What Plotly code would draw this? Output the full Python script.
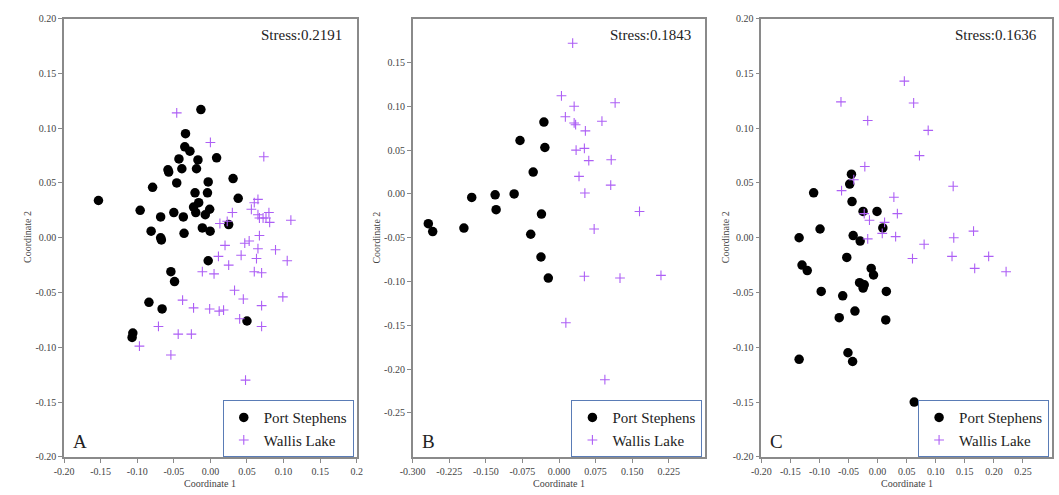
import plotly.graph_objects as go

W, H = 1059, 495

# ---- Panel A data ----
a_ps_x = [-0.153, -0.013, -0.034, -0.035, -0.028, -0.043, -0.017, 0.0085, -0.058, -0.057, -0.039, -0.019,
          0.031, -0.079, -0.046, -0.003, -0.021, -0.004, 0.038, -0.096, -0.068, -0.050, -0.037, -0.023,
          -0.016, -0.020, -0.001, -0.007, -0.081, -0.068, -0.067, -0.036, -0.011, -0.0004, 0.025,
          -0.003, -0.054, -0.049, -0.084, -0.066, -0.106, -0.107, 0.050]
a_ps_y = [0.034, 0.117, 0.095, 0.083, 0.079, 0.072, 0.071, 0.073, 0.062, 0.060, 0.063, 0.063,
          0.054, 0.046, 0.050, 0.051, 0.041, 0.041, 0.036, 0.025, 0.019, 0.023, 0.019, 0.028,
          0.032, 0.023, 0.026, 0.021, 0.006, 0.000, -0.002, 0.004, 0.009, 0.006, 0.012,
          -0.021, -0.031, -0.040, -0.059, -0.065, -0.087, -0.091, -0.076]
a_wl_x = [-0.046, 0.000, 0.073, 0.065, 0.060, 0.056, 0.030, 0.065, 0.080, 0.067, 0.072, 0.076, 0.081,
          0.110, 0.013, 0.023, 0.067, 0.020, 0.047, 0.053, 0.065, 0.089,
          0.011, 0.042, 0.063, 0.105, 0.025, -0.011, 0.005, 0.060, 0.070, 0.033, 0.045, 0.099,
          -0.038, -0.023, -0.001, 0.012, 0.018, 0.070, 0.040, 0.070, -0.071, -0.044, -0.026,
          -0.097, -0.054, 0.048]
a_wl_y = [0.114, 0.087, 0.074, 0.035, 0.032, 0.026, 0.023, 0.021, 0.023, 0.018, 0.018, 0.018, 0.014,
          0.016, 0.013, 0.015, 0.002, -0.007, -0.005, -0.003, -0.010, -0.011,
          -0.017, -0.016, -0.019, -0.021, -0.025, -0.031, -0.033, -0.031, -0.032, -0.048, -0.056, -0.054,
          -0.057, -0.064, -0.065, -0.067, -0.066, -0.062, -0.074, -0.081, -0.081, -0.088, -0.088,
          -0.099, -0.107, -0.130]

# ---- Panel B data ----
b_ps_x = [-0.031, -0.080, -0.029, -0.053, -0.092, -0.131, -0.179, -0.129, -0.036, -0.268, -0.259,
          -0.195, -0.058, -0.037, -0.022, 0.058]
b_ps_y = [0.082, 0.061, 0.053, 0.025, 0.000, -0.001, -0.004, -0.018, -0.023, -0.034, -0.043,
          -0.039, -0.046, -0.072, -0.096, -0.242]
b_wl_x = [0.028, 0.005, 0.031, 0.115, 0.013, 0.031, 0.034, 0.088, 0.054, 0.052, 0.035, 0.061,
          0.107, 0.041, 0.106, 0.053, 0.165, 0.072, 0.052, 0.125, 0.209, 0.014, 0.094]
b_wl_y = [0.172, 0.112, 0.100, 0.104, 0.088, 0.081, 0.079, 0.083, 0.072, 0.052, 0.050, 0.038,
          0.039, 0.020, 0.010, 0.001, -0.020, -0.040, -0.094, -0.096, -0.093, -0.147, -0.212]

# ---- Panel C data ----
c_ps_x = [-0.045, -0.048, -0.110, -0.044, -0.025, -0.001, 0.009, -0.099, -0.135, -0.042, -0.030,
          -0.053, -0.130, -0.121, -0.011, -0.007, -0.031, -0.023, -0.025, -0.097, -0.060, 0.015,
          -0.039, -0.066, 0.014, -0.051, -0.043, -0.135, 0.063]
c_ps_y = [0.058, 0.049, 0.041, 0.033, 0.024, 0.024, 0.009, 0.008, 0.000, 0.002, -0.003,
          -0.018, -0.025, -0.030, -0.028, -0.034, -0.041, -0.043, -0.046, -0.049, -0.053, -0.049,
          -0.067, -0.073, -0.075, -0.105, -0.113, -0.111, -0.150]
c_wl_x = [0.046, -0.063, 0.062, -0.017, 0.087, 0.072, -0.022, -0.041, -0.062, 0.130, 0.028, 0.034,
          -0.023, -0.014, 0.012, 0.008, 0.031, -0.017, 0.131, 0.165, 0.080, 0.060, 0.128, 0.191,
          0.167, 0.221]
c_wl_y = [0.143, 0.124, 0.123, 0.107, 0.098, 0.075, 0.065, 0.053, 0.043, 0.047, 0.037, 0.022,
          0.022, 0.016, 0.014, 0.004, 0.001, -0.001, 0.000, 0.006, -0.006, -0.019, -0.017, -0.017,
          -0.028, -0.031]

stress = ["Stress:0.2191", "Stress:0.1843", "Stress:0.1636"]
letters = ["A", "B", "C"]
groups = ["Port Stephens", "Wallis Lake"]

a_xticks = [-0.20, -0.15, -0.10, -0.05, 0.00, 0.05, 0.10, 0.15, 0.20]
a_xtext = ["-0.20", "-0.15", "-0.10", "-0.05", "0.00", "0.05", "0.10", "0.15", "0.2"]
ac_yticks = [-0.20, -0.15, -0.10, -0.05, 0.00, 0.05, 0.10, 0.15, 0.20]
ac_ytext = ["-0.20", "-0.15", "-0.10", "-0.05", "0.00", "0.05", "0.10", "0.15", "0.20"]
b_xticks = [-0.300, -0.225, -0.150, -0.075, 0.000, 0.075, 0.150, 0.225]
b_xtext = ["-0.300", "-0.225", "-0.150", "-0.075", "0.000", "0.075", "0.150", "0.225"]
b_yticks = [-0.25, -0.20, -0.15, -0.10, -0.05, 0.00, 0.05, 0.10, 0.15]
b_ytext = ["-0.25", "-0.20", "-0.15", "-0.10", "-0.05", "0.00", "0.05", "0.10", "0.15"]
c_xticks = [-0.20, -0.15, -0.10, -0.05, 0.00, 0.05, 0.10, 0.15, 0.20, 0.25]
c_xtext = ["-0.20", "-0.15", "-0.10", "-0.05", "0.00", "0.05", "0.10", "0.15", "0.20", "0.25"]

FONT = "Liberation Serif, Times New Roman, DejaVu Serif, serif"
PURPLE = "#ad5ff5"
AXC = "#8a8a8a"

panels = [
    dict(ps=(a_ps_x, a_ps_y), wl=(a_wl_x, a_wl_y), xr=[-0.2, 0.2], yr=[-0.2, 0.2],
         xt=(a_xticks, a_xtext), yt=(ac_yticks, ac_ytext), px=(52, 350)),
    dict(ps=(b_ps_x, b_ps_y), wl=(b_wl_x, b_wl_y), xr=[-0.3, 0.3], yr=[-0.3, 0.2],
         xt=(b_xticks, b_xtext), yt=(b_yticks, b_ytext), px=(407, 705)),
    dict(ps=(c_ps_x, c_ps_y), wl=(c_wl_x, c_wl_y), xr=[-0.2, 0.3], yr=[-0.2, 0.2],
         xt=(c_xticks, c_xtext), yt=(ac_yticks, ac_ytext), px=(762, 1058)),
]

top_px, bot_px = 13, 462
fig = go.Figure()
layout = {}
annotations = []
for i, p in enumerate(panels):
    sfx = "" if i == 0 else str(i + 1)
    leg = "legend" if i == 0 else "legend" + str(i + 1)
    fig.add_trace(go.Scatter(
        x=p["ps"][0], y=p["ps"][1], mode="markers", name=groups[0],
        marker=dict(symbol="circle", size=9.5, color="black"),
        xaxis="x" + sfx, yaxis="y" + sfx, legend=leg))
    fig.add_trace(go.Scatter(
        x=p["wl"][0], y=p["wl"][1], mode="markers", name=groups[1],
        marker=dict(symbol="cross-thin", size=7, line=dict(color=PURPLE, width=1.1), color=PURPLE),
        xaxis="x" + sfx, yaxis="y" + sfx, legend=leg))
    x0, x1 = p["px"]
    axcommon = dict(showline=True, mirror=True, linecolor=AXC, linewidth=1.5, ticks="outside",
                    ticklen=4, tickcolor=AXC, tickwidth=1, showgrid=False, zeroline=False,
                    tickfont=dict(family=FONT, size=10, color="#444"), fixedrange=True)
    layout["xaxis" + sfx] = dict(axcommon, domain=[x0 / W, x1 / W], range=p["xr"],
                                 anchor="y" + sfx, tickvals=p["xt"][0], ticktext=p["xt"][1])
    layout["yaxis" + sfx] = dict(axcommon, domain=[1 - bot_px / H, 1 - top_px / H], range=p["yr"],
                                 anchor="x" + sfx, tickvals=p["yt"][0], ticktext=p["yt"][1])
    layout[leg] = dict(x=(x1 - 3) / W, y=1 - 404 / H, xanchor="right", yanchor="top",
                       bordercolor="#5a7cb6", borderwidth=1, bgcolor="white",
                       font=dict(family=FONT, size=15, color="#222"),
                       tracegroupgap=0, itemsizing="trace", itemwidth=30)
    # Stress label
    annotations.append(dict(x=(x1 - 13) / W, y=1 - 30 / H, xref="paper", yref="paper",
                            xanchor="right", yanchor="middle", text=stress[i], showarrow=False,
                            font=dict(family=FONT, size=15, color="#222")))
    # Panel letter
    annotations.append(dict(x=(x0 + 7) / W, y=1 - 446 / H, xref="paper", yref="paper",
                            xanchor="left", yanchor="middle", text=letters[i], showarrow=False,
                            font=dict(family=FONT, size=19, color="#222")))
    # Axis titles
    annotations.append(dict(x=(x0 + x1) / 2 / W, y=1 - 489 / H, xref="paper", yref="paper",
                            xanchor="center", yanchor="middle", text="Coordinate 1", showarrow=False,
                            font=dict(family=FONT, size=10, color="#444")))
    annotations.append(dict(x=(x0 - 37) / W, y=1 - 237 / H, xref="paper", yref="paper",
                            xanchor="center", yanchor="middle", text="Coordinate 2", showarrow=False,
                            textangle=-90, font=dict(family=FONT, size=10, color="#444")))

fig.update_layout(**layout)
fig.update_layout(width=W, height=H, margin=dict(l=0, r=0, t=0, b=0),
                  paper_bgcolor="white", plot_bgcolor="white", annotations=annotations,
                  font=dict(family=FONT), showlegend=True)
fig.write_html("out.html")
